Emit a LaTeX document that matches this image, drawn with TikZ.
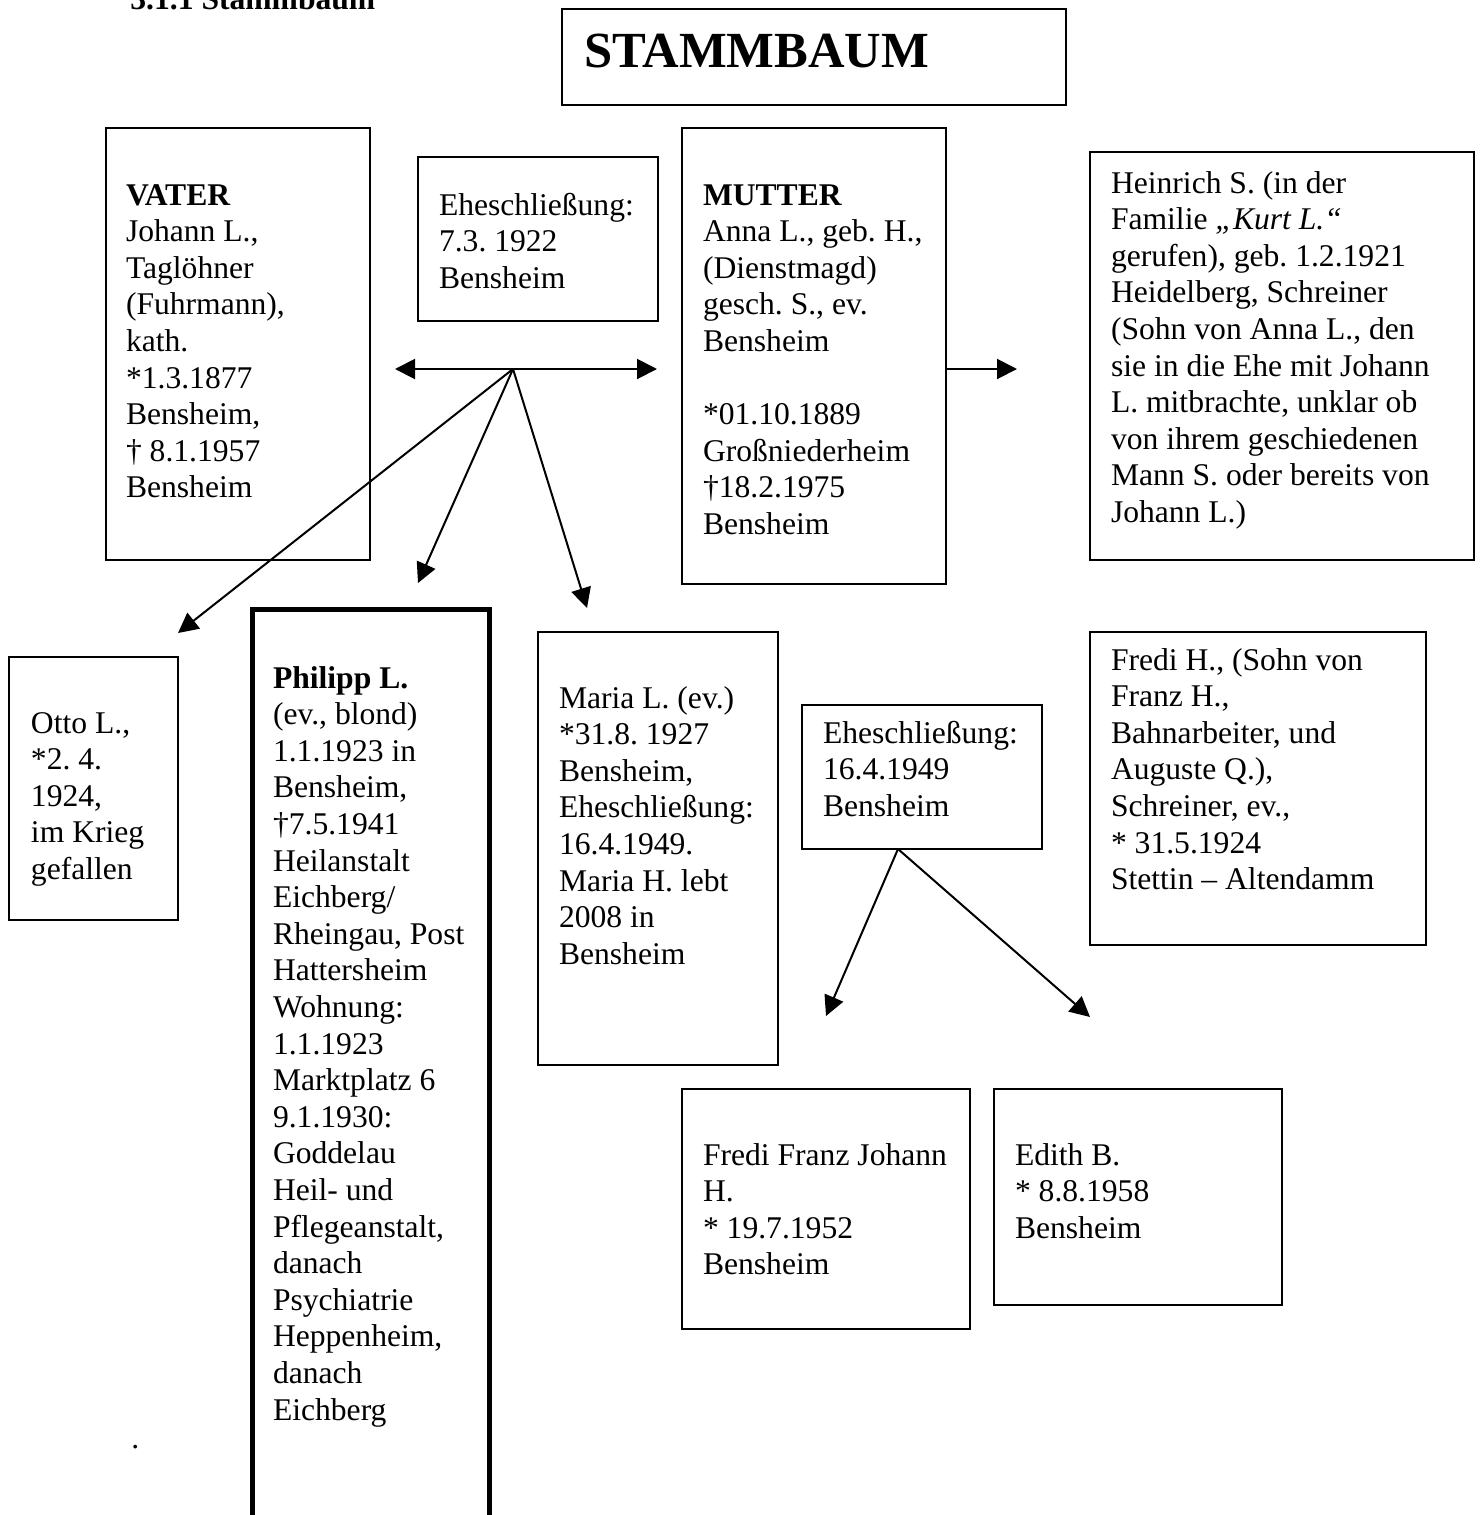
\documentclass[tikz,border=0pt]{standalone}
\usepackage{fontspec}
\setmainfont{Liberation Serif}
\usetikzlibrary{arrows.meta}
\newcommand{\bodyfont}{\fontsize{15.8pt}{18.3pt}\selectfont\frenchspacing}
\newcommand{\mystrut}{\rule{0pt}{14pt}}
\begin{document}
\begin{tikzpicture}[x=0.5pt,y=-0.5pt,
  box/.style={draw, line width=1pt, inner sep=0pt, outer sep=0pt, anchor=north west},
  thickbox/.style={box, line width=2.5pt},
  txt/.style={anchor=north west, inner sep=0pt, outer sep=0pt, align=left, font=\bodyfont},
  arr/.style={line width=1pt, -{Triangle[length=10pt,width=10pt]}},
  darr/.style={line width=1pt, {Triangle[length=10pt,width=10pt]}-{Triangle[length=10pt,width=10pt]}}]
\useasboundingbox (0,0) rectangle (1482,1515);
\clip (0,0) rectangle (1482,1515);

% heading (cut at top)
\node[anchor=base west, inner sep=0pt, font=\bodyfont\bfseries] (head) at (130,10) {3.1.1 Stammbaum};

% title
\node[box, minimum width=252pt, minimum height=48pt] (title) at (562,9) {};
\node[anchor=base west, inner sep=0pt, font=\fontsize{25.3pt}{29pt}\selectfont\bfseries] (titleT) at (584,67) {STAMMBAUM};

% boxes
\node[box, minimum width=132pt, minimum height=216pt] (vater) at (106,128) {};
\node[box, minimum width=120pt, minimum height=82pt] (ehe1) at (418,157) {};
\node[box, minimum width=132pt, minimum height=228pt] (mutter) at (682,128) {};
\node[box, minimum width=192pt, minimum height=204pt] (heinrich) at (1090,152) {};
\node[box, minimum width=84.5pt, minimum height=131.5pt] (otto) at (9,657) {};
\node[thickbox, minimum width=118.5pt, minimum height=470pt] (philipp) at (252,609) {};
\node[box, minimum width=120pt, minimum height=216.5pt] (maria) at (538,632) {};
\node[box, minimum width=120pt, minimum height=72pt] (ehe2) at (802,705) {};
\node[box, minimum width=168pt, minimum height=156.5pt] (fredih) at (1090,632) {};
\node[box, minimum width=144pt, minimum height=120pt] (fredif) at (682,1089) {};
\node[box, minimum width=144pt, minimum height=108pt] (edith) at (994,1089) {};

% texts
\node[txt] (vaterT) at (126,177) {\mystrut\textbf{VATER}\\ Johann L.,\\ Taglöhner\\ (Fuhrmann),\\ kath.\\ {*}1.3.1877\\ Bensheim,\\ † 8.1.1957\\ Bensheim};
\node[txt] (ehe1T) at (439,187) {\mystrut Eheschließung:\\ 7.3. 1922\\ Bensheim};
\node[txt] (mutterT) at (703,177) {\mystrut\textbf{MUTTER}\\ Anna L., geb. H.,\\ (Dienstmagd)\\ gesch. S., ev.\\ Bensheim\\[18.3pt] {*}01.10.1889\\ Großniederheim\\ †18.2.1975\\ Bensheim};
\node[txt] (heinrichT) at (1111,165) {\mystrut Heinrich S. (in der\\ Familie \textit{„Kurt L.“}\\ gerufen), geb. 1.2.1921\\ Heidelberg, Schreiner\\ (Sohn von Anna L., den\\ sie in die Ehe mit Johann\\ L. mitbrachte, unklar ob\\ von ihrem geschiedenen\\ Mann S. oder bereits von\\ Johann L.)};
\node[txt] (ottoT) at (31,705) {\mystrut Otto L.,\\ {*}2. 4.\\ 1924,\\ im Krieg\\ gefallen};
\node[txt] (philippT) at (273,660) {\mystrut\textbf{Philipp L.}\\ (ev., blond)\\ 1.1.1923 in\\ Bensheim,\\ †7.5.1941\\ Heilanstalt\\ Eichberg/\\ Rheingau, Post\\ Hattersheim\\ Wohnung:\\ 1.1.1923\\ Marktplatz 6\\ 9.1.1930:\\ Goddelau\\ Heil- und\\ Pflegeanstalt,\\ danach\\ Psychiatrie\\ Heppenheim,\\ danach\\ Eichberg};
\node[txt] (mariaT) at (559,680) {\mystrut Maria L. (ev.)\\ {*}31.8. 1927\\ Bensheim,\\ Eheschließung:\\ 16.4.1949.\\ Maria H. lebt\\ 2008 in\\ Bensheim};
\node[txt] (ehe2T) at (823,715) {\mystrut Eheschließung:\\ 16.4.1949\\ Bensheim};
\node[txt] (fredihT) at (1111,642) {\mystrut Fredi H., (Sohn von\\ Franz H.,\\ Bahnarbeiter, und\\ Auguste Q.),\\ Schreiner, ev.,\\ {*} 31.5.1924\\ Stettin – Altendamm};
\node[txt] (fredifT) at (703,1137) {\mystrut Fredi Franz Johann\\ H.\\ {*} 19.7.1952\\ Bensheim};
\node[txt] (edithT) at (1015,1137) {\mystrut Edith B.\\ {*} 8.8.1958\\ Bensheim};
\node[anchor=base west, inner sep=0pt, font=\bodyfont] (dot) at (131,1448) {.};

% connector coordinates
\coordinate (j) at (513,369);
\coordinate (dl) at (395,369);
\coordinate (dr) at (657,369);
\coordinate (tOtto) at (178,633);
\coordinate (tPhil) at (418,583);
\coordinate (tMaria) at (587,608);
\coordinate (tHein) at (1017,369);
\coordinate (e2) at (898,849);
\coordinate (tFF) at (826,1016);
\coordinate (tEd) at (1090,1017);

% connectors
\draw[darr] (dl) -- (dr);
\draw[arr] (j) -- (tOtto);
\draw[arr] (j) -- (tPhil);
\draw[arr] (j) -- (tMaria);
\draw[arr] (mutter.east |- j) -- (tHein);
\draw[arr] (e2) -- (tFF);
\draw[arr] (e2) -- (tEd);
\end{tikzpicture}
\end{document}
